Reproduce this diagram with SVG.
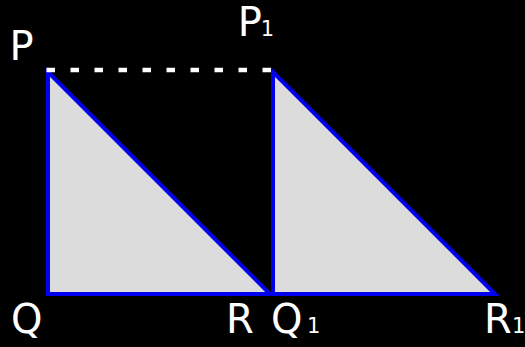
<svg xmlns="http://www.w3.org/2000/svg" width="525" height="347" viewBox="0 0 525 347">
  <style>
    .tri { fill: #dcdcdc; stroke: #0000ee; stroke-width: 4; stroke-linejoin: miter; }
    .lbl { fill: #ffffff; font-family: "DejaVu Sans", sans-serif; font-size: 40px; }
    .sub { font-size: 21px; }
  </style>
  <rect x="0" y="0" width="525" height="347" fill="#000000"/>
  <g id="triangle-PQR">
    <polygon class="tri" points="48,72 48,294 270,294"/>
  </g>
  <g id="triangle-P1Q1R1">
    <polygon class="tri" points="273,72 273,294 495,294"/>
  </g>
  <g id="connectors">
    <line x1="46.5" y1="70" x2="272" y2="70" stroke="#ffffff" stroke-width="4.5" stroke-dasharray="8.5 15.5"/>
  </g>
  <g id="label-P"><text class="lbl" x="9.5" y="60">P</text></g>
  <g id="label-P1"><text class="lbl" x="237.8" y="36">P<tspan class="sub" x="260.7">1</tspan></text></g>
  <g id="label-Q"><text class="lbl" x="11" y="333">Q</text></g>
  <g id="label-R"><text class="lbl" x="226" y="333">R</text></g>
  <g id="label-Q1"><text class="lbl" x="271" y="333">Q<tspan class="sub" x="307">1</tspan></text></g>
  <g id="label-R1"><text class="lbl" x="484" y="333">R<tspan class="sub" x="512">1</tspan></text></g>
</svg>
